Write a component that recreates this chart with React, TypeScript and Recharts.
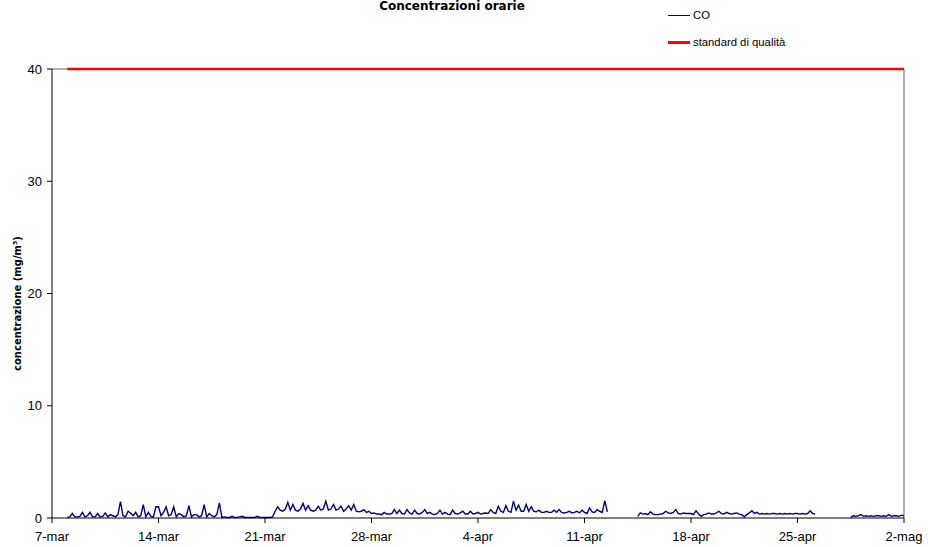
import {
  Legend,
  Line,
  LineChart,
  ReferenceLine,
  XAxis,
  YAxis,
} from "recharts";

// hourly CO, read every 4 hours (0,4,8,12,16,20) – one row per day
const CO_WEEK_1 = [
  null, null, null, null, null, null, // 7-mar
  0.05, 0.1, 0.4, 0.1, 0.1, 0.15,
  0.5, 0.1, 0.2, 0.5, 0.1, 0.1,
  0.4, 0.1, 0.15, 0.45, 0.1, 0.3,
  0.2, 0.1, 0.3, 1.45, 0.2, 0.1,
  0.6, 0.45, 0.2, 0.5, 0.1, 0.2,
  1.2, 0.1, 0.5, 0.15, 0.1, 1.0,
];
const CO_WEEK_2 = [
  1.0, 0.2, 0.5, 1.0, 0.2, 0.3, // 14-mar
  1.0, 0.1, 0.4, 0.3, 0.1, 0.2,
  1.1, 0.1, 0.3, 0.3, 0.1, 0.2,
  1.2, 0.1, 0.4, 0.2, 0.1, 0.3,
  1.35, 0.05, 0.1, 0.05, 0.05, 0.15,
  0.05, 0.05, 0.1, 0.15, 0.05, 0.05,
  0.05, 0.05, 0.05, 0.15, 0.05, 0.05,
];
const CO_WEEK_3 = [
  0.05, 0.05, 0.05, 0.1, 0.6, 1.0, // 21-mar
  0.7, 0.6, 0.8, 1.4, 0.7, 1.2,
  0.7, 0.6, 0.8, 1.3, 0.7, 1.1,
  0.7, 0.6, 0.7, 1.05, 0.7, 0.8,
  1.5, 0.7, 0.8, 1.2, 0.7, 0.8,
  1.05, 0.6, 0.8, 1.1, 0.7, 1.2,
  0.6, 0.55, 0.6, 0.75, 0.5, 0.6,
];
const CO_WEEK_4 = [
  0.4, 0.45, 0.35, 0.35, 0.3, 0.5, // 28-mar
  0.35, 0.35, 0.4, 0.75, 0.4, 0.7,
  0.4, 0.35, 0.75, 0.45, 0.35, 0.7,
  0.4, 0.35, 0.5, 0.75, 0.4, 0.5,
  0.35, 0.3, 0.4, 0.7, 0.35, 0.5,
  0.35, 0.3, 0.7, 0.4, 0.35, 0.45,
  0.6, 0.35, 0.35, 0.6, 0.35, 0.4,
];
const CO_WEEK_5 = [
  0.5, 0.35, 0.4, 0.45, 0.4, 0.75, // 4-apr
  0.5, 0.4, 1.05, 0.6, 0.5, 1.1,
  0.6, 0.5, 1.5, 0.7, 1.15, 0.6,
  0.6, 1.2, 0.6, 1.0, 0.6, 0.55,
  0.7, 0.5, 0.5, 0.6, 0.5, 0.5,
  0.7, 0.5, 0.75, 0.5, 0.45, 0.5,
  0.6, 0.45, 0.5, 0.6, 0.45, 0.7,
];
const CO_WEEK_6 = [
  0.5, 0.4, 0.9, 0.55, 0.5, 0.75, // 11-apr
  0.6, 0.5, 1.55, 0.55, null, null,
  null, null, null, null, null, null,
  null, null, null, 0.15, 0.45, 0.35,
  0.4, 0.3, 0.55, 0.35, 0.3, 0.3,
  0.35, 0.4, 0.6, 0.45, 0.4, 0.5,
  0.75, 0.4, 0.35, 0.45, 0.4, 0.4,
];
const CO_WEEK_7 = [
  0.4, 0.3, 0.65, 0.35, 0.15, 0.3, // 18-apr
  0.35, 0.45, 0.35, 0.35, 0.45, 0.6,
  0.4, 0.35, 0.5, 0.4, 0.35, 0.4,
  0.45, 0.35, 0.3, 0.1, 0.3, 0.45,
  0.65, 0.4, 0.5, 0.35, 0.4, 0.35,
  0.4, 0.35, 0.4, 0.4, 0.35, 0.4,
  0.35, 0.4, 0.35, 0.4, 0.35, 0.4,
];
const CO_WEEK_8 = [
  0.4, 0.35, 0.4, 0.35, 0.4, 0.65, // 25-apr
  0.4, 0.35, null, null, null, null,
  null, null, null, null, null, null,
  null, null, null, 0.05, 0.2, 0.15,
  0.2, 0.3, 0.15, 0.2, 0.15, 0.2,
  0.15, 0.2, 0.2, 0.15, 0.2, 0.15,
  0.3, 0.15, 0.2, 0.2, 0.15, 0.25,
  0.2, // 2-mag 00:00
];

const STANDARD = 40; // standard di qualità, mg/m3
const STANDARD_FROM_DAY = 1; // series starts 8-mar
const SLOTS_PER_DAY = 6;

const TICK_DAYS = [0, 7, 14, 21, 28, 35, 42, 49, 56];
const TICK_LABELS = [
  "7-mar", "14-mar", "21-mar", "28-mar", "4-apr",
  "11-apr", "18-apr", "25-apr", "2-mag",
];
const Y_TICKS = [0, 10, 20, 30, 40];

const coValues = [
  ...CO_WEEK_1, ...CO_WEEK_2, ...CO_WEEK_3, ...CO_WEEK_4,
  ...CO_WEEK_5, ...CO_WEEK_6, ...CO_WEEK_7, ...CO_WEEK_8,
];
const data = coValues.map((co, i) => {
  const day = i / SLOTS_PER_DAY;
  return { day, co, std: day >= STANDARD_FROM_DAY ? STANDARD : null };
});

const tickFont = { fontFamily: "'Liberation Sans', Arial, sans-serif", fontSize: 13, fill: "#000" };

function LegendBox() {
  const row = { display: "flex", alignItems: "center", height: 16 } as const;
  return (
    <div style={{ fontFamily: "'Liberation Sans', Arial, sans-serif", fontSize: 11.3, color: "#000" }}>
      <div style={row}>
        <span style={{ width: 22, height: 0, borderTop: "1px solid #000080", marginRight: 3 }} />
        CO
      </div>
      <div style={{ ...row, marginTop: 11 }}>
        <span style={{ width: 22, height: 0, borderTop: "3px solid #FF0000", marginRight: 3 }} />
        standard di qualità
      </div>
    </div>
  );
}

function YLabel({ viewBox }: any) {
  const cx = viewBox.x + 17;
  const cy = viewBox.y + viewBox.height / 2 + 10;
  return (
    <text
      x={cx}
      y={cy}
      transform={`rotate(-90 ${cx} ${cy})`}
      textAnchor="middle"
      dominantBaseline="central"
      style={{ fontFamily: "'DejaVu Sans', Tahoma, sans-serif", fontSize: 10, fontWeight: "bold", fill: "#000" }}
    >
      concentrazione (mg/m³)
    </text>
  );
}

export default function App() {
  return (
    <div style={{ position: "absolute", left: 0, top: 0, width: 928, height: 547, background: "#fff" }}>
      <div
        style={{
          position: "absolute",
          top: 0,
          left: 352,
          width: 200,
          textAlign: "center",
          fontFamily: "'DejaVu Sans', Tahoma, sans-serif",
          fontSize: 12,
          lineHeight: "12px",
          fontWeight: "bold",
          zIndex: 2,
        }}
      >
        Concentrazioni orarie
      </div>
      <LineChart
        width={928}
        height={547}
        data={data}
        margin={{ top: 69, right: 24, bottom: 0, left: 0 }}
      >
        <XAxis
          dataKey="day"
          type="number"
          domain={[0, 56]}
          ticks={TICK_DAYS}
          tickFormatter={(d: number) => TICK_LABELS[TICK_DAYS.indexOf(d)]}
          height={29}
          stroke="#000"
          tickSize={5}
          tickMargin={9}
          tick={tickFont}
        />
        <YAxis
          domain={[0, 40]}
          ticks={Y_TICKS}
          width={52}
          stroke="#000"
          tickSize={5}
          tickMargin={5}
          tick={tickFont}
          label={{ content: (p: any) => <YLabel {...p} /> }}
        />
        <ReferenceLine x={56} stroke="#999" strokeWidth={1.5} />
        <ReferenceLine y={40} stroke="#999" strokeWidth={1.5} />
        <Legend
          layout="vertical"
          align="center"
          verticalAlign="middle"
          content={() => <LegendBox />}
          wrapperStyle={{ left: 668, top: 7, width: 160 }}
        />
        <Line
          type="linear"
          dataKey="co"
          name="CO"
          stroke="#000080"
          strokeWidth={1.4}
          dot={false}
          connectNulls={false}
          isAnimationActive={false}
        />
        <Line
          type="linear"
          dataKey="std"
          name="standard di qualità"
          stroke="#FF0000"
          strokeWidth={2.5}
          dot={false}
          isAnimationActive={false}
        />
      </LineChart>
    </div>
  );
}
